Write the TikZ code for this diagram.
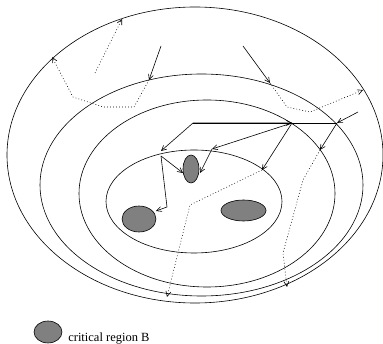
\documentclass[tikz,border=0pt]{standalone}
\usepackage{fontspec}
\setmainfont{Liberation Serif}
\usetikzlibrary{arrows.meta}
\begin{document}
\begin{tikzpicture}[x=1pt,y=-1pt,
  line width=0.6pt,
  >={Straight Barb[length=5pt,width=5pt]},
  ring/.style={draw=black},
  region/.style={draw=black,fill=black!50},
  flow/.style={->},
  dotflow/.style={dash pattern=on 0.8pt off 2.2pt},
  legendtext/.style={anchor=base west,inner sep=0pt,font=\fontsize{12.5}{14}\selectfont}]
\useasboundingbox (0,0) rectangle (383,344);
% rings
\draw[ring] (195,155) ellipse [x radius=188,y radius=148];
\draw[ring] (201.5,185) ellipse [x radius=161.5,y radius=111];
\draw[ring] (207,193.5) ellipse [x radius=128,y radius=93.5];
\draw[ring] (194,201.5) ellipse [x radius=88,y radius=51.5];
% critical regions
\draw[region] (191,169) ellipse [x radius=8,y radius=14];
\draw[region] (139,219) ellipse [x radius=17,y radius=13];
\draw[region] (243.5,210.5) ellipse [x radius=22.5,y radius=10.5];
% points
\coordinate (s1) at (161,46);
\coordinate (t1) at (149,80);
\coordinate (s2) at (243,46);
\coordinate (t2) at (270,83);
\coordinate (u1) at (287,107);
\coordinate (u2) at (310,112);
\coordinate (u3) at (363,90);
\coordinate (v1) at (134,107);
\coordinate (v2) at (103,107);
\coordinate (v3) at (73,97);
\coordinate (v4) at (52,57);
\coordinate (w0) at (95,73);
\coordinate (w1) at (122,19);
\coordinate (L) at (193,123);
\coordinate (H) at (292,123);
\coordinate (R) at (337,123);
\coordinate (Rs) at (358,112);
\coordinate (P) at (161,151);
\coordinate (Q) at (161,156);
\coordinate (m1) at (212,149);
\coordinate (m2) at (200,173);
\coordinate (n1) at (262,170);
\coordinate (n2) at (190,205);
\coordinate (n3) at (167,297);
\coordinate (r1) at (320,150);
\coordinate (r2) at (303,180);
\coordinate (r3) at (283,253);
\coordinate (r4) at (287,287);
\coordinate (q1) at (183,173);
\coordinate (q2) at (167,207);
\coordinate (q3) at (156,211);
% solid connectors
\draw[flow] (s1) -- (t1);
\draw[flow] (s2) -- (t2);
\draw (R) -- (H);
\draw[flow] (H) -- (L) -- (P);
\draw[flow] (L) -- (H);
\draw[flow] (H) -- (m1);
\draw[flow] (m1) -- (m2);
\draw[flow] (H) -- (n1);
\draw[flow] (Rs) -- (R);
\draw[flow] (R) -- (r1);
\draw[flow] (Q) -- (q1);
\draw[flow] (Q) -- (q2) -- (q3);
% dotted connectors
\draw[dotflow,->] (t2) -- (u1) -- (u2) -- (u3);
\draw[dotflow,->] (t1) -- (v1) -- (v2) -- (v3) -- (v4);
\draw[dotflow,->] (w0) -- (w1);
\draw[dotflow,->] (n1) -- (n2) -- (n3);
\draw[dotflow,->] (r1) -- (r2) -- (r3) -- (r4);
% legend
\draw[region] (48,332) ellipse [x radius=14,y radius=11];
\node[legendtext] (lg) at (68,342) {critical region B};
\end{tikzpicture}
\end{document}
